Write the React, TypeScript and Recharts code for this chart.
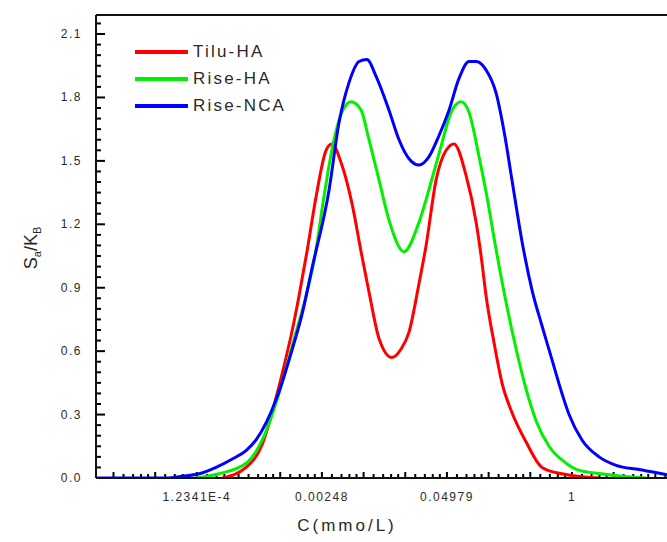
import React from 'react';
import { Legend, Line, LineChart, ReferenceLine, XAxis, YAxis } from 'recharts';

// x values are ln(C), the axis is labelled in C
const tiluX = [-8.39, -7.82, -7.43, -7.10, -6.86, -6.71, -6.55, -6.35, -6.14, -5.90, -5.76, -5.52, -5.28, -5.04, -4.87, -4.63, -4.32, -4.10, -3.91, -3.67, -3.50, -3.26, -3.02, -2.83, -2.54, -2.30, -2.18, -2.06, -1.87, -1.68, -1.44, -1.10, -0.72, -0.24, 0.65];
const tiluY = [0, 0.05, 0.16, 0.38, 0.57, 0.70, 0.86, 1.08, 1.33, 1.55, 1.58, 1.48, 1.30, 1.05, 0.88, 0.66, 0.57, 0.61, 0.69, 0.92, 1.10, 1.41, 1.55, 1.58, 1.43, 1.21, 1.05, 0.86, 0.64, 0.45, 0.31, 0.17, 0.05, 0.02, 0];

const riseHaX = [-9.02, -8.47, -7.82, -7.43, -7.03, -6.62, -6.38, -6.14, -5.99, -5.71, -5.52, -5.30, -5.06, -4.87, -4.63, -4.39, -4.03, -3.67, -3.38, -3.14, -2.90, -2.66, -2.47, -2.23, -2.04, -1.82, -1.58, -1.34, -1.10, -0.86, -0.55, -0.14, 0.12, 0.70, 1.77];
const riseHaY = [0, 0.02, 0.07, 0.18, 0.40, 0.69, 0.86, 1.08, 1.28, 1.60, 1.73, 1.78, 1.74, 1.60, 1.41, 1.22, 1.07, 1.21, 1.40, 1.57, 1.73, 1.78, 1.73, 1.52, 1.33, 1.08, 0.83, 0.61, 0.42, 0.27, 0.15, 0.07, 0.04, 0.02, 0];

const riseNcaX = [-11.42, -9.74, -9.30, -8.94, -8.54, -8.15, -7.82, -7.58, -7.10, -6.71, -6.47, -6.24, -5.83, -5.59, -5.35, -5.11, -4.92, -4.70, -4.39, -4.15, -3.91, -3.67, -3.43, -3.19, -2.95, -2.71, -2.47, -2.30, -2.06, -1.82, -1.63, -1.44, -1.20, -0.96, -0.72, -0.48, -0.24, -0.07, 0.24, 0.65, 1.06, 1.61, 2.16, 2.28];
const riseNcaY = [0, 0, 0.01, 0.02, 0.05, 0.09, 0.13, 0.18, 0.37, 0.61, 0.78, 0.99, 1.36, 1.68, 1.87, 1.97, 1.98, 1.90, 1.74, 1.60, 1.51, 1.48, 1.52, 1.62, 1.74, 1.89, 1.97, 1.97, 1.93, 1.82, 1.64, 1.41, 1.12, 0.89, 0.72, 0.56, 0.40, 0.30, 0.18, 0.10, 0.06, 0.04, 0.02, 0.015];

const xTickPos = [-9, -6, -3, 0];
const xTickLabels = ['1.2341E-4', '0.00248', '0.04979', '1'];
const yTickPos = [0, 0.3, 0.6, 0.9, 1.2, 1.5, 1.8, 2.1];
const yTickLabels = ['0.0', '0.3', '0.6', '0.9', '1.2', '1.5', '1.8', '2.1'];

const X_MIN = -11.42;
const X_MAX = 2.28;
const Y_MAX = 2.19;
// plot is 571px wide and 463px tall, used to turn tick lengths (px) into data units
const PX_X = (X_MAX - X_MIN) / 571;
const PX_Y = Y_MAX / 463;

const toRows = (xs: number[], ys: number[]) => xs.map((x, i) => ({ x, v: ys[i] }));

const series = [
  { name: 'Tilu-HA', color: '#ff0000', data: toRows(tiluX, tiluY) },
  { name: 'Rise-HA', color: '#00f000', data: toRows(riseHaX, riseHaY) },
  { name: 'Rise-NCA', color: '#0000ff', data: toRows(riseNcaX, riseNcaY) },
];

// tick mark positions (axis decoration only)
const yMinor: number[] = [];
for (let i = 1; i <= 43; i++) yMinor.push(Math.round(i * 5) / 100);
const xMinor: number[] = [];
for (let n = -11; n <= 2; n++) {
  xMinor.push(n);
  [0.24, 0.47, 0.66, 0.83].forEach(f => {
    if (n + f < X_MAX) xMinor.push(n + f);
  });
}
const isMajorY = (v: number) => Math.abs(v * 10 / 3 - Math.round(v * 10 / 3)) < 1e-6;
const isWhole = (v: number) => Math.abs(v - Math.round(v)) < 1e-6;

const FONT = '"Liberation Sans", Arial, sans-serif';
const TXT = '#2a2a2a';

const YTick = (props: any) => {
  const { x, y, payload } = props;
  const idx = yTickPos.findIndex(p => Math.abs(p - payload.value) < 1e-6);
  if (idx < 0) return <g />;
  return (
    <text x={x - 14} y={y + 4} textAnchor="end" fontSize={12} letterSpacing={1.5} fill={TXT} fontFamily={FONT}>
      {yTickLabels[idx]}
    </text>
  );
};

const XTick = (props: any) => {
  const { x, y, payload } = props;
  const idx = xTickPos.findIndex(p => Math.abs(p - payload.value) < 1e-6);
  if (idx < 0) return <g />;
  return (
    <text x={x} y={y + 23} textAnchor="middle" fontSize={12} letterSpacing={1.5} fill={TXT} fontFamily={FONT}>
      {xTickLabels[idx]}
    </text>
  );
};

const YLabel = () => (
  <text transform="rotate(-90, 31, 248)" x={31} y={254} textAnchor="middle" fontSize={18} fill={TXT} fontFamily={FONT}>
    S<tspan fontSize={11} dy={4}>a</tspan>
    <tspan dy={-4}>/K</tspan>
    <tspan fontSize={11} dy={4}>B</tspan>
  </text>
);

const XLabel = () => (
  <text x={347} y={531} textAnchor="middle" fontSize={17} letterSpacing={3} fill={TXT} fontFamily={FONT}>
    C(mmo/L)
  </text>
);

const renderLegend = () => (
  <div style={{ fontFamily: FONT }}>
    {series.map(s => (
      <div key={s.name} style={{ display: 'flex', alignItems: 'center', height: 27 }}>
        <div style={{ width: 53, height: 4, background: s.color }} />
        <span style={{ marginLeft: 5, fontSize: 17, letterSpacing: 2.2, color: TXT }}>{s.name}</span>
      </div>
    ))}
  </div>
);

export default function App() {
  return (
    <div style={{ position: 'absolute', left: 0, top: 0, background: '#fff' }}>
      <LineChart width={667} height={542} margin={{ top: 15, right: 0, bottom: 0, left: 0 }}>
        <XAxis
          dataKey="x"
          type="number"
          domain={[X_MIN, X_MAX]}
          allowDataOverflow
          ticks={xTickPos}
          interval={0}
          height={64}
          tickSize={0}
          tickMargin={0}
          tickLine={false}
          tick={<XTick />}
          axisLine={{ stroke: '#111', strokeWidth: 2 }}
          label={<XLabel />}
        />
        <YAxis
          type="number"
          domain={[0, Y_MAX]}
          allowDataOverflow
          ticks={yTickPos}
          interval={0}
          width={96}
          tickSize={0}
          tickMargin={0}
          tickLine={false}
          tick={<YTick />}
          axisLine={{ stroke: '#111', strokeWidth: 2 }}
          label={<YLabel />}
        />
        <ReferenceLine y={Y_MAX} stroke="#111" strokeWidth={2} />
        {/* inward tick marks */}
        {yMinor.map(v => (
          <ReferenceLine
            key={'yt' + v}
            segment={[{ x: X_MIN, y: v }, { x: X_MIN + (isMajorY(v) ? 9 : 5) * PX_X, y: v }]}
            stroke="#000"
            strokeWidth={2}
            ifOverflow="visible"
          />
        ))}
        {xMinor.map(v => (
          <ReferenceLine
            key={'xt' + v}
            segment={[{ x: v, y: 0 }, { x: v, y: (isWhole(v) ? 6 : 4) * PX_Y }]}
            stroke="#000"
            strokeWidth={2}
            ifOverflow="visible"
          />
        ))}
        {series.map(s => (
          <Line
            key={s.name}
            data={s.data}
            dataKey="v"
            name={s.name}
            type="monotone"
            stroke={s.color}
            strokeWidth={3}
            dot={false}
            activeDot={false}
            isAnimationActive={false}
          />
        ))}
        <Legend
          content={renderLegend}
          layout="vertical"
          align="center"
          verticalAlign="middle"
          wrapperStyle={{ left: 135, top: 38, width: 220 }}
        />
      </LineChart>
    </div>
  );
}
